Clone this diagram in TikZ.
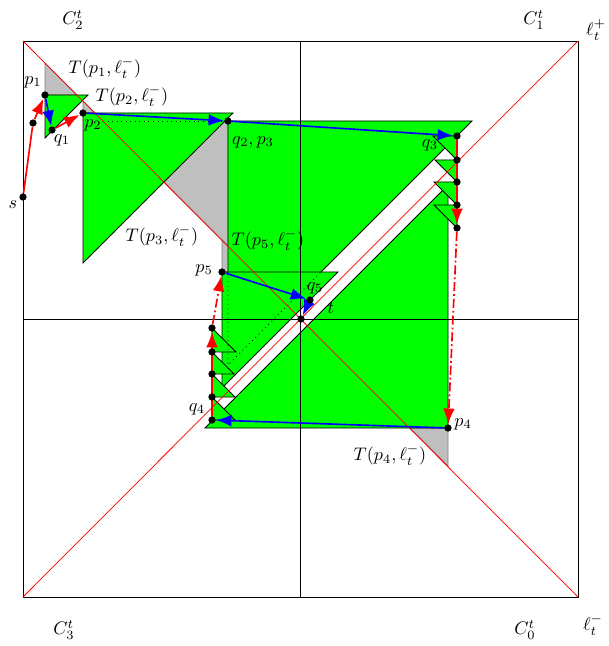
\documentclass[tikz,border=0pt]{standalone}
\usetikzlibrary{arrows.meta}
\definecolor{gfill}{RGB}{0,255,0}
\definecolor{gyfill}{RGB}{191,191,191}
\pgfdeclarelayer{back}
\pgfdeclarelayer{mid}
\pgfsetlayers{back,mid,main}
\begin{document}
\begin{tikzpicture}[x=0.55pt,y=-0.55pt,
  greentri/.style={fill=gfill, draw=black, line width=0.45pt},
  graytri/.style={fill=gyfill, draw=gray, line width=0.4pt},
  hidden/.style={dotted, line width=0.5pt},
  frame/.style={draw=black, line width=0.5pt},
  diag/.style={red, line width=0.4pt},
  pt/.style={circle, fill=black, inner sep=0pt, minimum size=4pt},
  redarr/.style={red, line width=0.9pt, -{Latex[length=8.5pt,width=6.5pt]}},
  bluearr/.style={blue, line width=0.9pt, -{Latex[length=8.5pt,width=6.5pt]}},
  redchain/.style={redarr, dash pattern=on 5pt off 1.6pt on 1pt off 1.6pt},
  lab/.style={inner sep=0pt}
]
\useasboundingbox (0,0) rectangle (608,646);

\begin{pgfonlayer}{back}
% gray triangles T(p, l-)
\path[graytri] (45,63) -- (45,95) -- (77,95) -- cycle;
\path[graytri] (83,101) -- (83,113) -- (95,113) -- cycle;
\path[graytri] (228,121) -- (228,246) -- (103,121) -- cycle;
\path[graytri] (222,272) -- (222,240) -- (254,272) -- cycle;
\path[graytri] (448,428) -- (448,466) -- (410,428) -- cycle;
% green triangles
\path[greentri] (45,95) -- (88,95) -- (45,138) -- cycle;
\path[greentri] (83,113) -- (233,113) -- (83,263) -- cycle;
\path[greentri] (228,121) -- (472,121) -- (228,365) -- cycle;
\path[greentri] (448,428) -- (205,428) -- (448,185) -- cycle;
\path[greentri] (222,272) -- (338,272) -- (222,388) -- cycle;
% right small triangles
\path[greentri] (457,136) -- (433,136) -- (457,160) -- cycle;
\path[greentri] (457,160) -- (435,160) -- (457,182) -- cycle;
\path[greentri] (457,182) -- (434,182) -- (457,205) -- cycle;
\path[greentri] (457,205) -- (434,205) -- (457,228) -- cycle;
% left small triangles
\path[greentri] (212,328) -- (212,352) -- (236,352) -- cycle;
\path[greentri] (212,352) -- (212,374) -- (234,374) -- cycle;
\path[greentri] (212,374) -- (212,397) -- (235,397) -- cycle;
\path[greentri] (212,397) -- (212,420) -- (235,420) -- cycle;
% hidden edges
\draw[hidden] (103,121) -- (228,121);
\draw[hidden] (228,272) -- (228,365) -- (321,272);
% frame and axes
\draw[frame] (23,41) rectangle (578,597);
\draw[frame] (300,41) -- (300,597);
\draw[frame] (23,319) -- (578,319);
\draw[diag] (23,41) -- (578,597);
\draw[diag] (23,597) -- (578,41);
\end{pgfonlayer}

% points
\node[pt] (s) at (23,197) {};
\node[pt] (w1) at (33,123) {};
\node[pt] (p1) at (45,95) {};
\node[pt] (q1) at (52,130) {};
\node[pt] (p2) at (83,113) {};
\node[pt] (q2) at (228,121) {};
\node[pt] (q3) at (457,136) {};
\node[pt] (r1) at (457,160) {};
\node[pt] (r2) at (457,182) {};
\node[pt] (r3) at (457,205) {};
\node[pt] (r4) at (457,228) {};
\node[pt] (p4) at (448,428) {};
\node[pt] (q4) at (212,420) {};
\node[pt] (l1) at (212,397) {};
\node[pt] (l2) at (212,374) {};
\node[pt] (l3) at (212,352) {};
\node[pt] (l4) at (212,328) {};
\node[pt] (p5) at (222,272) {};
\node[pt] (q5) at (310,300) {};
\node[pt] (t) at (301,319) {};

\begin{pgfonlayer}{mid}
\draw[redarr] (s) -- (w1) -- (p1);
\draw[bluearr] (p1) -- (q1);
\draw[redarr] (q1) -- (p2);
\draw[bluearr] (p2) -- (q2);
\draw[bluearr] (q2) -- (q3);
\draw[redarr] (q3) -- (r4);
\draw[redchain] (r4) -- (p4);
\draw[bluearr] (p4) -- (q4);
\draw[redarr] (q4) -- (l4);
\draw[redchain] (l4) -- (p5);
\draw[bluearr] (p5) -- (q5);
\draw[bluearr] (q5) -- (t);
\end{pgfonlayer}

% labels
\node[lab] (Ls) at (13,205) {$s$};
\node[lab] (Lp1) at (33,82) {$p_1$};
\node[lab] (Lq1) at (62,140) {$q_1$};
\node[lab] (Lp2) at (93,125) {$p_2$};
\node[lab] (LT1) at (105,68) {$T(p_1,\ell_t^-)$};
\node[lab] (LT2) at (132,96) {$T(p_2,\ell_t^-)$};
\node[lab] (LT3) at (162,236) {$T(p_3,\ell_t^-)$};
\node[lab] (LT5) at (268,240) {$T(p_5,\ell_t^-)$};
\node[lab] (LT4) at (390,455) {$T(p_4,\ell_t^-)$};
\node[lab] (Lq2) at (253,142) {$q_2,p_3$};
\node[lab] (Lq3) at (430,145) {$q_3$};
\node[lab] (Lp5) at (204,270) {$p_5$};
\node[lab] (Lq5) at (315,288) {$q_5$};
\node[lab] (Lt) at (331,308) {$t$};
\node[lab] (Lq4) at (197,409) {$q_4$};
\node[lab] (Lp4) at (463,424) {$p_4$};
\node[lab] (LC2) at (73,20) {$C_2^t$};
\node[lab] (LC1) at (534,20) {$C_1^t$};
\node[lab] (Llp) at (596,30) {$\ell_t^+$};
\node[lab] (LC3) at (64,630) {$C_3^t$};
\node[lab] (LC0) at (525,630) {$C_0^t$};
\node[lab] (Llm) at (593,625) {$\ell_t^-$};
\end{tikzpicture}
\end{document}
